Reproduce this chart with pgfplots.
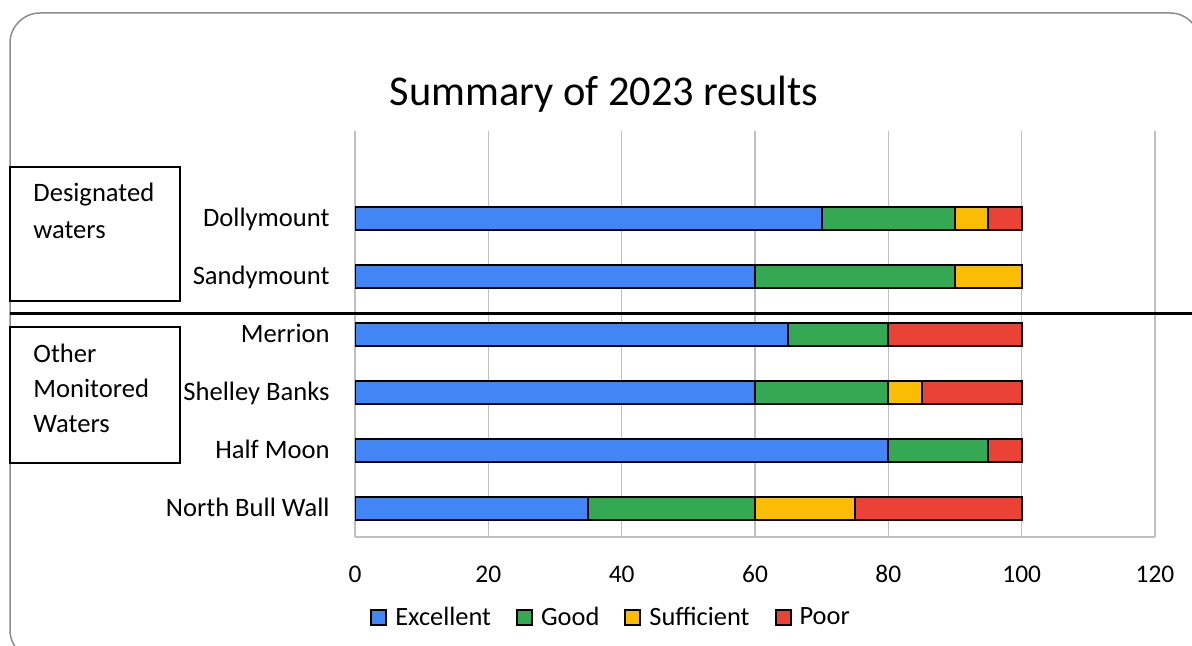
\documentclass[border=0pt]{standalone}
\usepackage{pgfplots}
\pgfplotsset{compat=1.18}
\usepackage{fontspec}
\setmainfont{Carlito}
\definecolor{cExc}{HTML}{4285F4}
\definecolor{cGood}{HTML}{34A853}
\definecolor{cSuff}{HTML}{FBBC04}
\definecolor{cPoor}{HTML}{EA4335}
\definecolor{framec}{HTML}{8C8C8C}
\definecolor{gridc}{HTML}{C0C0C0}
\pgfplotsset{mylegend/.style={legend image code/.code={\draw[##1,line width=1pt] (0pt,-3.75pt) rectangle (7.5pt,3.75pt);}}}
\begin{document}
\begin{tikzpicture}
\useasboundingbox (0,0) rectangle (596pt,-323pt);
\begin{scope}[x=0.5pt,y=-0.5pt]
\begin{scope}
\clip (0,0) rectangle (1192,646);
\draw[framec, line width=0.75pt, rounded corners=15pt] (10,13) rectangle (1200,660);
\end{scope}
\node[anchor=base, inner sep=0pt, font=\fontsize{21.2}{25}\selectfont] at (604,106) {Summary of 2023 results};
\draw[black, line width=0.75pt] (10,167) rectangle (180,301);
\draw[black, line width=0.75pt] (10,327) rectangle (180,463);
\begin{scope}[every node/.style={anchor=base west, inner sep=0pt, font=\fontsize{13.3}{16}\selectfont}]
\node at (33,202) {Designated};
\node at (33,239) {waters};
\node at (33,362) {Other};
\node at (33,397) {Monitored};
\node at (33,432) {Waters};
\end{scope}
\end{scope}
\begin{axis}[
  at={(177.5pt,-268.5pt)}, anchor=south west,
  scale only axis, width=400pt, height=203pt,
  xbar stacked, bar width=11.5pt,
  xmin=0, xmax=120, ymin=-0.5, ymax=6.5,
  xtick={0,20,40,60,80,100,120},
  ytick={0,1,2,3,4,5},
  yticklabels={North Bull Wall,Half Moon,Shelley Banks,Merrion,Sandymount,Dollymount},
  xmajorgrids, major grid style={gridc, line width=0.75pt},
  axis x line*=bottom, axis y line*=left,
  axis line style={gridc, line width=0.75pt, -},
  major tick length=0pt,
  /pgf/number format/assume math mode=true,
  xticklabel style={font=\fontsize{12.7}{15}\selectfont, anchor=base, inner sep=0pt, yshift=-22.5pt},
  yticklabel style={font=\fontsize{13.3}{16}\selectfont, anchor=base east, inner sep=0pt, xshift=-12.5pt, yshift=-4.3pt},
  legend columns=4,
  legend style={at={(0.31875,-0.198)}, anchor=center, draw=none, fill=none, inner sep=0pt,
    font=\fontsize{13.2}{15}\selectfont, nodes={inner sep=0pt},
    /tikz/every odd column/.append style={column sep=4pt},
    /tikz/every even column/.append style={column sep=12.5pt}},
]
\addplot[fill=cExc, draw=black, line width=1pt, mylegend] coordinates {(35,0) (80,1) (60,2) (65,3) (60,4) (70,5)};
\addplot[fill=cGood, draw=black, line width=1pt, mylegend] coordinates {(25,0) (15,1) (20,2) (15,3) (30,4) (20,5)};
\addplot[fill=cSuff, draw=black, line width=1pt, mylegend] coordinates {(15,0) (0,1) (5,2) (0,3) (10,4) (5,5)};
\addplot[fill=cPoor, draw=black, line width=1pt, mylegend] coordinates {(25,0) (5,1) (15,2) (20,3) (0,4) (5,5)};
\legend{Excellent,Good,Sufficient,Poor}
\end{axis}
\begin{scope}[x=0.5pt,y=-0.5pt]
\draw[black, line width=1.5pt] (10,314) -- (1192,314);
\end{scope}
\end{tikzpicture}
\end{document}
